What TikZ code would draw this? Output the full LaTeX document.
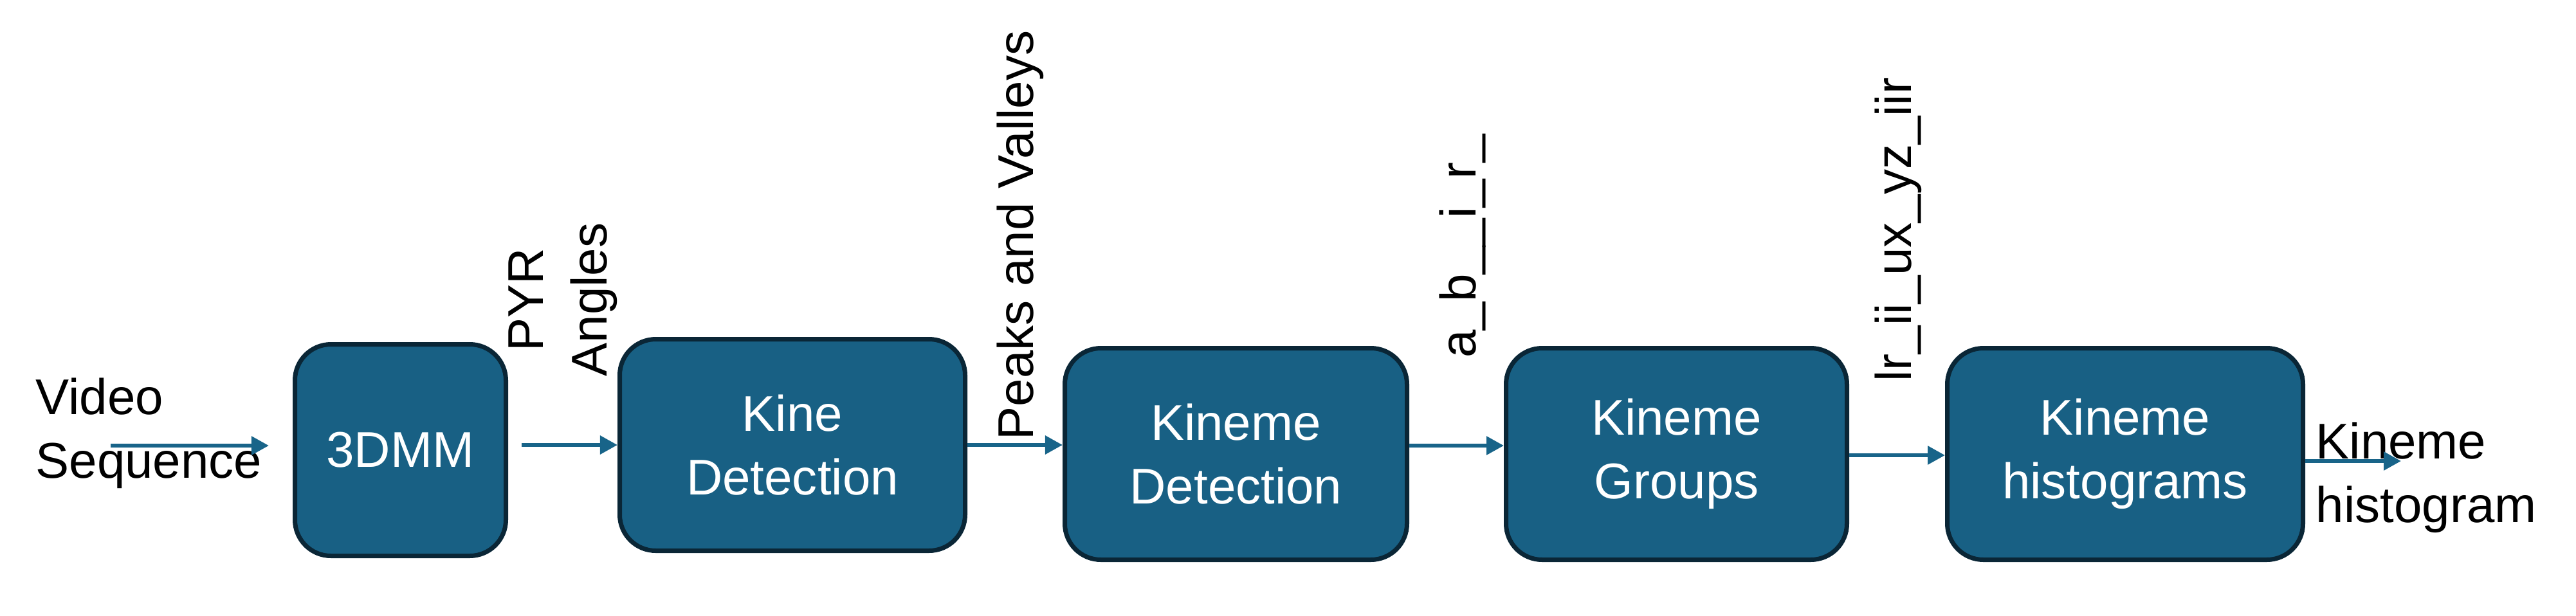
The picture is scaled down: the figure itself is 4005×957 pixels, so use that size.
\documentclass[tikz,border=0pt]{standalone}
\usepackage{fontspec}
\setmainfont{Liberation Sans}
\usetikzlibrary{arrows.meta}
\definecolor{boxfill}{HTML}{186084}
\definecolor{boxline}{HTML}{0A2636}
\definecolor{arrcol}{HTML}{186489}
\begin{document}
\begin{tikzpicture}[x=0.01cm,y=-0.01cm,
  every node/.style={font=\fontsize{22.2pt}{28pt}\selectfont, inner sep=0pt},
  stage/.style={draw=boxline, fill=boxfill, line width=0.07cm, rounded corners=0.56cm,
    text=white, align=center},
  flow/.style={draw=arrcol, line width=0.06cm, -{Triangle[length=0.27cm,width=0.28cm]}},
  lbl/.style={text=black, align=center, anchor=base, rotate=90},
  side/.style={text=black, align=left, anchor=base west}]
\useasboundingbox (0,0) rectangle (4005,957);
% boxes
\node[stage, minimum width=328*0.01cm, minimum height=329*0.01cm] (m) at (622.5,700) {3DMM};
\node[stage, minimum width=537*0.01cm, minimum height=329*0.01cm] (k) at (1232,692) {Kine\\Detection};
\node[stage, minimum width=532*0.01cm, minimum height=329*0.01cm] (kd) at (1921.5,706) {Kineme\\Detection};
\node[stage, minimum width=530*0.01cm, minimum height=329*0.01cm] (g) at (2606.5,706) {Kineme\\Groups};
\node[stage, minimum width=553*0.01cm, minimum height=329*0.01cm] (h) at (3304,706) {Kineme\\histograms};
% side texts (base anchor = baseline of the last line)
\node[side] (vid) at (55,743) {Video\\Sequence};
\node[side] (out) at (3600,812) {Kineme\\histogram};
% rotated labels
\node[lbl] (pyr) at (943,466) {PYR\\Angles};
\node[lbl] (pv) at (1606,366) {Peaks and Valleys};
\node[lbl] (ab) at (2294,383) {a\_b\_\_i\_r\_};
\node[lbl] (lr) at (2971,357) {lr\_ii\_ux\_yz\_iir};
% connectors
\coordinate (vs) at (172,693);
\coordinate (hout) at (3733,717);
\draw[flow, shorten >=0.37cm] (vs) -- (vs -| m.west);
\draw[flow, shorten <=0.21cm] (m.east |- k.west) -- (k.west);
\draw[flow] (k.east) -- (k.east -| kd.west);
\draw[flow] (kd.east |- 0,693) -- (g.west |- 0,693);
\draw[flow] (g.east |- 0,708) -- (h.west |- 0,708);
\draw[flow] (h.east |- hout) -- (hout);
\end{tikzpicture}
\end{document}
